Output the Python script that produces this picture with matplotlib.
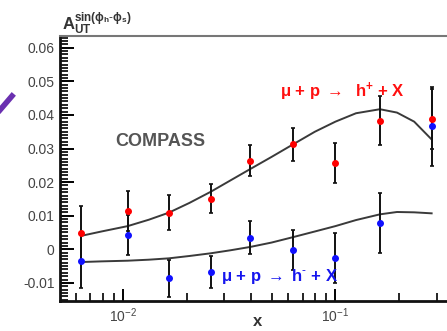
import numpy as np
import matplotlib
matplotlib.use("Agg")
import matplotlib.pyplot as plt
from matplotlib.lines import Line2D

plt.rcParams['font.family'] = ['Liberation Sans', 'DejaVu Sans']
plt.rcParams['mathtext.fontset'] = 'custom'
plt.rcParams['mathtext.rm'] = 'Liberation Sans'
plt.rcParams['mathtext.bf'] = 'Liberation Sans:bold'
plt.rcParams['mathtext.it'] = 'Liberation Sans:italic'

# datos
x_bins = [0.00634, 0.0105, 0.0164, 0.0258, 0.0397, 0.063, 0.100, 0.162, 0.284]
hplus = [0.0048, 0.0114, 0.0109, 0.0150, 0.0264, 0.0312, 0.0257, 0.0382, 0.0388]
hplus_err = [0.008, 0.006, 0.0052, 0.0043, 0.0045, 0.005, 0.006, 0.0073, 0.009]
hminus = [-0.0035, 0.0043, -0.0086, -0.0067, 0.0035, -0.0002, -0.0025, 0.0079, 0.0366]
hminus_err = [0.008, 0.006, 0.0055, 0.0048, 0.005, 0.006, 0.0074, 0.009, 0.0118]

# curvas de ajuste
fit_x = [0.00634, 0.0079, 0.0105, 0.0132, 0.0164, 0.0205, 0.0258, 0.032, 0.0397,
         0.050, 0.063, 0.080, 0.100, 0.125, 0.162, 0.195, 0.235, 0.284]
fit_plus = [0.0040, 0.0053, 0.0069, 0.0088, 0.0109, 0.0138, 0.0171, 0.0205, 0.0239,
            0.0275, 0.0312, 0.0350, 0.0380, 0.0405, 0.0417, 0.0407, 0.0380, 0.0327]
fit_minus = [-0.0038, -0.0036, -0.0034, -0.0031, -0.0027, -0.0020, -0.0012, -0.0003, 0.0007,
             0.0020, 0.0036, 0.0053, 0.0069, 0.0087, 0.0104, 0.0111, 0.0110, 0.0107]

xticks = [0.01, 0.1]
yticks = [-0.01, 0, 0.01, 0.02, 0.03, 0.04, 0.05, 0.06]
ylabels = ['-0.01', '0', '0.01', '0.02', '0.03', '0.04', '0.05', '0.06']

fig = plt.figure(figsize=(4.47, 3.31), dpi=100)
ax = fig.add_axes([60/447, 30/331, 420/447, 265/331])

ax.plot(fit_x, fit_plus, '-', color='#3a3a3a', lw=1.4, zorder=2)
ax.plot(fit_x, fit_minus, '-', color='#3a3a3a', lw=1.4, zorder=2)

ax.errorbar(x_bins, hplus, yerr=hplus_err, fmt='o', color='red', ms=4,
            ecolor='#111111', elinewidth=1.4, capsize=1.2, capthick=1.2, zorder=3)
ax.errorbar(x_bins, hminus, yerr=hminus_err, fmt='o', color='#1010ff', ms=4,
            ecolor='#111111', elinewidth=1.4, capsize=1.2, capthick=1.2, zorder=3)

ax.set_xscale('log')
ax.set_xlim(0.005035, 0.48)
ax.set_ylim(-0.0154, 0.0635)
ax.set_xticks(xticks)
ax.set_yticks(yticks)
ax.set_yticklabels(ylabels)
ax.set_yticks(np.arange(-0.015, 0.0635, 0.001), minor=True)
ax.tick_params(which='both', direction='in', top=False, right=False,
               labelsize=10, labelcolor='#444444', color='black')
ax.tick_params(which='major', length=10, width=1.4)
ax.tick_params(which='minor', length=6, width=1.2)
ax.tick_params(axis='x', which='major', length=9, pad=4)
ax.tick_params(axis='y', pad=4)

for s in ['left', 'bottom']:
    ax.spines[s].set_linewidth(2)
    ax.spines[s].set_color('#111111')
ax.spines['top'].set_linewidth(1.5)
ax.spines['top'].set_color('#777777')

fig.text(258/447, 1 - 322/331, 'x', fontsize=12, fontweight='bold',
         color='#333333', ha='center', va='center')

fig.text(62/447, 1 - 30/331, r'$\mathbf{A}_{\mathbf{UT}}^{\mathbf{sin(\phi_h\text{-}\phi_s)}}$',
         fontsize=12, color='#333333', ha='left', va='baseline')

fig.text(160/447, 1 - 141/331, 'COMPASS', fontsize=13, fontweight='bold',
         color='#555555', ha='center', va='center')
fig.text(342/447, 1 - 92/331, r'μ + p $\rightarrow$  h$^{\mathbf{+}}$ + X', fontsize=12,
         fontweight='bold', color='#ff1010', ha='center', va='center')
fig.text(280/447, 1 - 277/331, r'μ + p $\rightarrow$ h$^{\mathbf{\text{-}}}$ + X', fontsize=12,
         fontweight='bold', color='#1515ee', ha='center', va='center')

fig.add_artist(Line2D([0, 12/447], [1 - 110/331, 1 - 96/331], color='#6a30b0',
                      lw=4, transform=fig.transFigure))

fig.savefig('out.png', dpi=100)
